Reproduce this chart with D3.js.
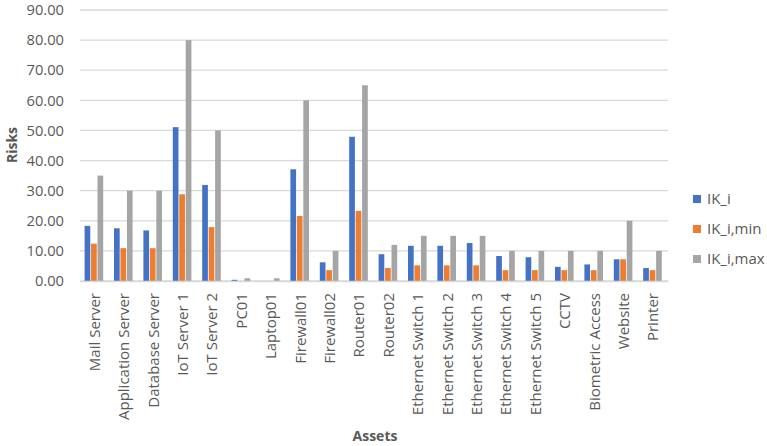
<!DOCTYPE html>
<html>
<head>
<meta charset="utf-8">
<script src="https://cdn.jsdelivr.net/npm/d3@7"></script>
<style>
  html, body { margin: 0; padding: 0; background: #fff; }
  svg text { font-family: "Open Sans", sans-serif; fill: #595959; }
</style>
</head>
<body>
<svg id="chart" width="767" height="446"></svg>
<script>
// Risk scores per asset
const assets = ["Mail Server", "Application Server", "Database Server", "IoT Server 1", "IoT Server 2",
  "PC01", "Laptop01", "Firewall01", "Firewall02", "Router01", "Router02",
  "Ethernet Switch 1", "Ethernet Switch 2", "Ethernet Switch 3", "Ethernet Switch 4", "Ethernet Switch 5",
  "CCTV", "Biometric Access", "Website", "Printer"];
const seriesNames = ["IK_i", "IK_i,min", "IK_i,max"];
const ikI    = [18.3, 17.5, 16.8, 51.1, 31.9, 0.4, 0.0, 37.1, 6.2, 47.9, 8.9, 11.7, 11.7, 12.6, 8.3, 7.9, 4.7, 5.5, 7.2, 4.3];
const ikIMin = [12.4, 10.9, 10.9, 28.8, 17.9, 0.0, 0.0, 21.6, 3.6, 23.3, 4.3, 5.2, 5.2, 5.2, 3.6, 3.6, 3.6, 3.6, 7.2, 3.6];
const ikIMax = [35, 30, 30, 80, 50, 0.9, 0.9, 60, 10, 65, 12, 15, 15, 15, 10, 10, 10, 10, 20, 10];
const yTicks = [0, 10, 20, 30, 40, 50, 60, 70, 80, 90];
const colors = ["#4472C4", "#ED7D31", "#A5A5A5"];

const svg = d3.select("#chart");
const margin = { left: 80, right: 99, top: 10, bottom: 165 };
const W = 767, H = 446;
const plotW = W - margin.left - margin.right;
const plotH = H - margin.top - margin.bottom;
const g = svg.append("g").attr("transform", `translate(${margin.left},${margin.top})`);

const x = d3.scaleBand().domain(assets).range([0, plotW]);
const y = d3.scaleLinear().domain([0, 90]).range([plotH, 0]);
const inner = d3.scaleBand().domain(seriesNames).range([0, 18.6]).paddingInner(0.12);

// gridlines
g.selectAll("line.grid").data(yTicks).enter().append("line")
  .attr("class", "grid")
  .attr("x1", 0).attr("x2", plotW)
  .attr("y1", d => y(d)).attr("y2", d => y(d))
  .attr("stroke", "#d9d9d9").attr("stroke-width", 1.3);

// y axis labels
const yAxis = d3.axisLeft(y).tickValues(yTicks).tickFormat(d3.format(".2f")).tickSize(0).tickPadding(16);
const ya = g.append("g").call(yAxis);
ya.select(".domain").remove();
ya.selectAll("text").style("font-size", "14.7px").attr("fill", "#595959");

// bars
const rows = assets.map((a, i) => ({ asset: a, vals: [ikI[i], ikIMin[i], ikIMax[i]] }));
const groupOffset = (x.bandwidth() - 18.6) / 2 - 0.8;
const grp = g.selectAll("g.cat").data(rows).enter().append("g")
  .attr("transform", d => `translate(${x(d.asset) + groupOffset},0)`);
grp.selectAll("rect").data(d => d.vals.map((v, k) => ({ v, k }))).enter().append("rect")
  .attr("x", d => inner(seriesNames[d.k]))
  .attr("width", inner.bandwidth())
  .attr("y", d => y(d.v))
  .attr("height", d => y(0) - y(d.v))
  .attr("fill", d => colors[d.k]);

// x axis
const xAxis = d3.axisBottom(x).tickSize(0).tickPadding(0);
const xa = g.append("g").attr("transform", `translate(0,${plotH})`).call(xAxis);
xa.select(".domain").attr("stroke", "#d9d9d9").attr("stroke-width", 1.3);
xa.selectAll("text")
  .style("font-size", "15px")
  .attr("fill", "#595959")
  .attr("text-anchor", "end")
  .attr("dy", null)
  .attr("y", 0)
  .attr("transform", "translate(5,12) rotate(-90)");

// axis titles
svg.append("text").attr("x", 375).attr("y", 441).attr("text-anchor", "middle")
  .style("font-size", "14px").style("font-weight", "bold").text("Assets");
svg.append("text").attr("transform", "translate(17,145) rotate(-90)").attr("text-anchor", "middle")
  .style("font-size", "14px").style("font-weight", "bold").text("Risks");

// legend
const leg = svg.append("g").attr("transform", "translate(693,199)");
seriesNames.forEach((s, i) => {
  const row = leg.append("g").attr("transform", `translate(0,${i * 30})`);
  row.append("rect").attr("x", 0).attr("y", -4).attr("width", 8).attr("height", 8).attr("fill", colors[i]);
  row.append("text").attr("x", 14).attr("y", 0).attr("dy", "0.35em")
    .style("font-size", "15px").text(s);
});
</script>
</body>
</html>
